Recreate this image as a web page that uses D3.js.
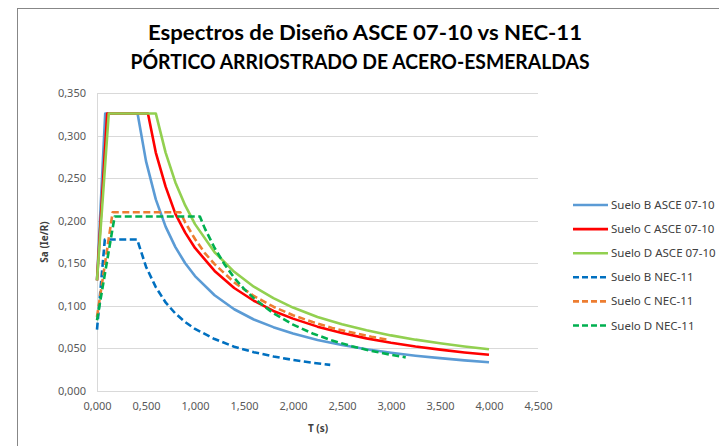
<!DOCTYPE html>
<html>
<head>
<meta charset="utf-8">
<script src="https://cdn.jsdelivr.net/npm/d3@7"></script>
<style>
  body { margin: 0; background: #fff; }
  svg { display: block; }
  text { font-family: "Noto Sans", "Liberation Sans", sans-serif; }
</style>
</head>
<body>
<svg id="chart" width="719" height="446"></svg>
<script>
// Design spectra: period T (s) and spectral acceleration Sa (Ie/R)
const seriesNames = [
  "Suelo B ASCE 07-10", "Suelo C ASCE 07-10", "Suelo D ASCE 07-10",
  "Suelo B NEC-11", "Suelo C NEC-11", "Suelo D NEC-11"
];

const tB_ASCE  = [0, 0.084, 0.414, 0.5, 0.6, 0.7, 0.8, 0.9, 1.0, 1.2, 1.4, 1.6, 1.8, 2.0, 2.25, 2.5, 2.75, 3.0, 3.25, 3.5, 3.75, 4.0];
const saB_ASCE = [0.130, 0.326, 0.326, 0.270, 0.225, 0.193, 0.169, 0.150, 0.135, 0.1125, 0.096, 0.084, 0.075, 0.0675, 0.060, 0.054, 0.049, 0.045, 0.0415, 0.0386, 0.036, 0.0338];

const tC_ASCE  = [0, 0.104, 0.52, 0.6, 0.7, 0.8, 0.9, 1.0, 1.2, 1.4, 1.6, 1.8, 2.0, 2.25, 2.5, 2.75, 3.0, 3.25, 3.5, 3.75, 4.0];
const saC_ASCE = [0.130, 0.326, 0.326, 0.280, 0.240, 0.208, 0.186, 0.168, 0.141, 0.121, 0.106, 0.094, 0.085, 0.0756, 0.068, 0.0618, 0.0567, 0.0523, 0.0486, 0.0453, 0.0425];

const tD_ASCE  = [0, 0.12, 0.6, 0.7, 0.8, 0.9, 1.0, 1.2, 1.4, 1.6, 1.8, 2.0, 2.25, 2.5, 2.75, 3.0, 3.25, 3.5, 3.75, 4.0];
const saD_ASCE = [0.130, 0.326, 0.326, 0.280, 0.245, 0.218, 0.196, 0.163, 0.140, 0.1225, 0.109, 0.098, 0.087, 0.0784, 0.0713, 0.0653, 0.0603, 0.056, 0.0523, 0.049];

const tB_NEC  = [0, 0.08, 0.41, 0.5, 0.6, 0.7, 0.8, 0.9, 1.0, 1.2, 1.4, 1.6, 1.8, 2.0, 2.2, 2.38];
const saB_NEC = [0.072, 0.178, 0.178, 0.146, 0.122, 0.104, 0.091, 0.081, 0.073, 0.061, 0.052, 0.0456, 0.0406, 0.0365, 0.0332, 0.0307];

const tC_NEC  = [0, 0.16, 0.85, 0.9, 1.0, 1.1, 1.2, 1.4, 1.6, 1.8, 2.0, 2.2, 2.4, 2.6, 2.8, 2.98];
const saC_NEC = [0.087, 0.210, 0.210, 0.198, 0.1785, 0.162, 0.149, 0.1275, 0.1116, 0.099, 0.089, 0.081, 0.074, 0.0687, 0.0638, 0.060];

const tD_NEC  = [0, 0.18, 1.05, 1.1, 1.2, 1.3, 1.4, 1.5, 1.6, 1.8, 2.0, 2.2, 2.4, 2.6, 2.8, 3.0, 3.15];
const saD_NEC = [0.083, 0.205, 0.205, 0.191, 0.168, 0.149, 0.133, 0.120, 0.109, 0.0913, 0.078, 0.0676, 0.0593, 0.0526, 0.0471, 0.0425, 0.0395];

const xTicks = [0, 0.5, 1, 1.5, 2, 2.5, 3, 3.5, 4, 4.5];
const yTicks = [0, 0.05, 0.10, 0.15, 0.20, 0.25, 0.30, 0.35];

const periods = [tB_ASCE, tC_ASCE, tD_ASCE, tB_NEC, tC_NEC, tD_NEC];
const accels  = [saB_ASCE, saC_ASCE, saD_ASCE, saB_NEC, saC_NEC, saD_NEC];
const colors  = ["#5b9bd5", "#ff0000", "#92d050", "#0070c0", "#ed7d31", "#00b050"];
const dashed  = [false, false, false, true, true, true];

const svg = d3.select("#chart");

// outer chart frame
svg.append("rect")
  .attr("x", 17.5).attr("y", 8.5)
  .attr("width", 800).attr("height", 600)
  .attr("fill", "#fff").attr("stroke", "#878787").attr("stroke-width", 1);

const x = d3.scaleLinear().domain([0, 4.5]).range([97, 538]);
const y = d3.scaleLinear().domain([0, 0.35]).range([391, 93]);
const fmt = v => d3.format(".3f")(v).replace(".", ",");

// horizontal gridlines
svg.append("g")
  .selectAll("line").data(yTicks).join("line")
  .attr("x1", x(0)).attr("x2", x(4.5))
  .attr("y1", d => Math.round(y(d)) + 0.5).attr("y2", d => Math.round(y(d)) + 0.5)
  .attr("stroke", "#d9d9d9").attr("stroke-width", 1);

// vertical axis line
svg.append("line")
  .attr("x1", Math.round(x(0)) + 0.5).attr("x2", Math.round(x(0)) + 0.5)
  .attr("y1", y(0.35)).attr("y2", y(0))
  .attr("stroke", "#d9d9d9");

// axes (labels only)
const yAxis = d3.axisLeft(y).tickValues(yTicks).tickFormat(fmt).tickSize(0).tickPadding(11);
const gy = svg.append("g").attr("transform", `translate(${x(0)},0)`).call(yAxis);
const xAxis = d3.axisBottom(x).tickValues(xTicks).tickFormat(fmt).tickSize(0).tickPadding(11);
const gx = svg.append("g").attr("transform", `translate(0,${y(0)})`).call(xAxis);
[gx, gy].forEach(g => {
  g.select(".domain").remove();
  g.selectAll("text").attr("fill", "#595959").style("font-size", "11px")
    .style("font-family", "\"Noto Sans\", sans-serif");
});

// series lines
const line = d3.line().x(d => x(d[0])).y(d => y(d[1]));
periods.forEach((ts, i) => {
  const pts = ts.map((t, k) => [t, accels[i][k]]);
  svg.append("path")
    .datum(pts)
    .attr("d", line)
    .attr("fill", "none")
    .attr("stroke", colors[i])
    .attr("stroke-width", 2.6)
    .attr("stroke-linejoin", "round")
    .attr("stroke-dasharray", dashed[i] ? "7,3.5" : null);
});

// titles
const title1 = "Espectros de Diseño ASCE 07-10 vs NEC-11";
const title2 = "PÓRTICO ARRIOSTRADO DE ACERO-ESMERALDAS";
svg.append("text").attr("x", 365).attr("y", 40).attr("text-anchor", "middle")
  .style("font-family", "Lato, \"Open Sans\", sans-serif")
  .style("font-size", "20px").style("font-weight", "700").attr("fill", "#000")
  .attr("textLength", 434).attr("lengthAdjust", "spacingAndGlyphs")
  .text(title1);
svg.append("text").attr("x", 360).attr("y", 69).attr("text-anchor", "middle")
  .style("font-family", "Lato, \"Open Sans\", sans-serif")
  .style("font-size", "20px").style("font-weight", "700").attr("fill", "#000")
  .attr("textLength", 459).attr("lengthAdjust", "spacingAndGlyphs")
  .text(title2);

// axis titles
svg.append("text")
  .attr("transform", "translate(48,242) rotate(-90)")
  .attr("text-anchor", "middle")
  .style("font-size", "10px").style("font-weight", "700").attr("fill", "#404040")
  .text("Sa (Ie/R)");
svg.append("text")
  .attr("x", 318).attr("y", 432).attr("text-anchor", "middle")
  .style("font-size", "10px").style("font-weight", "700").attr("fill", "#404040")
  .text("T (s)");

// legend
const legend = svg.append("g");
seriesNames.forEach((name, i) => {
  const ly = 205 + i * 24.1;
  legend.append("line")
    .attr("x1", 573).attr("x2", 608).attr("y1", ly).attr("y2", ly)
    .attr("stroke", colors[i]).attr("stroke-width", 2.6)
    .attr("stroke-dasharray", dashed[i] ? "6,3" : null);
  legend.append("text")
    .attr("x", 611).attr("y", ly).attr("dy", "0.35em")
    .style("font-size", "11.5px").attr("fill", "#404040")
    .text(name);
});
</script>
</body>
</html>
